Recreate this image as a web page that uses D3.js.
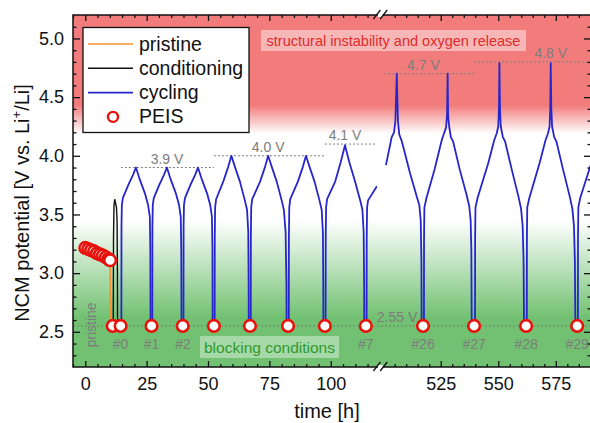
<!DOCTYPE html>
<html>
<head>
<meta charset="utf-8">
<script src="https://cdn.jsdelivr.net/npm/d3@7"></script>
<style>
  html, body { margin: 0; padding: 0; background: #fff; }
  svg { display: block; font-family: "Liberation Sans", Arial, sans-serif; }
</style>
</head>
<body>
<div id="chart"></div>
<script>
// ---- data: [time h, potential V] ----
const ocvT = [0, 1.2, 2.4, 3.6, 4.8, 6.0, 7.2, 8.4, 9.4, 10.1];
const ocvV = [3.215, 3.205, 3.195, 3.185, 3.17, 3.16, 3.15, 3.135, 3.12, 3.11];

const pristineLine = [[10.15, 3.11], [10.25, 2.57]];
const conditioningLine = [[11.4, 2.57], [11.5, 3.3], [11.7, 3.58], [12.0, 3.63], [12.3, 3.6],
  [12.7, 3.56], [12.95, 3.45], [13.1, 3.0], [13.15, 2.57]];

// cycling curves, left part of the broken axis
const cyclesLeft = [
  [[14.7, 2.56], [14.75, 3.4], [14.9, 3.58], [15.3, 3.64], [17.5, 3.75], [19.5, 3.84], [20.65, 3.9],
   [22.0, 3.81], [24.3, 3.68], [25.6, 3.58], [26.3, 3.48], [26.5, 3.2], [26.6, 2.57]],
  [[27.3, 2.56], [27.35, 3.4], [27.5, 3.58], [27.9, 3.64], [30.1, 3.75], [32.1, 3.84], [33.25, 3.9],
   [34.6, 3.81], [36.9, 3.68], [38.2, 3.58], [38.9, 3.48], [39.1, 3.2], [39.2, 2.57]],
  [[40.0, 2.56], [40.05, 3.4], [40.2, 3.58], [40.6, 3.64], [42.8, 3.75], [44.8, 3.84], [45.9, 3.9],
   [47.3, 3.81], [49.6, 3.68], [50.9, 3.58], [51.6, 3.48], [51.8, 3.2], [51.9, 2.57]],
  [[52.7, 2.56], [52.75, 3.3], [52.9, 3.56], [53.3, 3.63], [56.2, 3.78], [58.3, 3.91], [59.5, 4.0],
   [60.9, 3.91], [63.0, 3.78], [65.0, 3.62], [65.9, 3.54], [66.4, 3.35], [66.55, 2.9], [66.6, 2.57]],
  [[67.4, 2.56], [67.45, 3.3], [67.6, 3.56], [68.0, 3.63], [71.2, 3.78], [73.3, 3.91], [74.5, 4.0],
   [75.9, 3.91], [78.0, 3.78], [80.0, 3.62], [80.9, 3.54], [81.6, 3.35], [81.95, 2.9], [82.0, 2.57]],
  [[82.9, 2.56], [82.95, 3.3], [83.1, 3.56], [83.5, 3.63], [86.6, 3.78], [88.7, 3.91], [89.9, 4.0],
   [91.3, 3.91], [93.4, 3.78], [95.4, 3.62], [96.3, 3.54], [96.8, 3.35], [96.95, 2.9], [97.0, 2.57]],
  [[97.9, 2.56], [97.95, 3.3], [98.1, 3.56], [98.5, 3.63], [101.8, 3.78], [104.1, 3.95], [105.8, 4.09],
   [107.5, 3.95], [109.9, 3.78], [112.0, 3.62], [112.9, 3.54], [113.4, 3.35], [113.6, 2.9], [113.65, 2.57]],
  [[114.6, 2.56], [114.65, 3.3], [114.8, 3.56], [115.2, 3.62], [118.8, 3.74]],
];

// cycling curves, right part of the broken axis
const cyclesRight = [
  [[501.2, 3.92], [503.7, 4.16], [504.7, 4.2], [505.3, 4.3], [505.9, 4.7], [506.4, 4.3], [507.0, 4.18],
   [508.0, 4.13], [511.7, 3.85], [514.6, 3.65], [515.7, 3.58], [516.3, 3.45], [516.6, 3.1], [516.7, 2.57]],
  [[517.7, 2.56], [517.75, 3.3], [517.9, 3.56], [518.8, 3.64], [522.4, 3.89], [525.4, 4.13], [526.4, 4.19],
   [527.3, 4.24], [527.75, 4.35], [528.0, 4.7], [528.2, 4.35], [528.6, 4.26], [529.4, 4.16], [530.4, 4.12],
   [533.3, 3.88], [536.2, 3.67], [537.4, 3.57], [538.0, 3.45], [538.3, 3.2], [538.45, 2.57]],
  [[539.9, 2.56], [539.95, 3.3], [540.1, 3.56], [541.0, 3.64], [545.7, 3.94], [548.2, 4.13], [549.3, 4.19],
   [550.0, 4.25], [550.3, 4.4], [550.5, 4.79], [550.75, 4.4], [551.1, 4.25], [552.0, 4.16], [553.0, 4.12],
   [555.9, 3.88], [558.8, 3.65], [559.9, 3.55], [560.6, 3.4], [561.0, 3.1], [561.2, 2.57]],
  [[562.4, 2.56], [562.45, 3.3], [562.6, 3.56], [563.5, 3.64], [568.0, 3.94], [570.5, 4.13], [571.6, 4.19],
   [572.3, 4.25], [572.6, 4.4], [572.8, 4.79], [573.05, 4.4], [573.4, 4.25], [574.3, 4.16], [575.3, 4.12],
   [578.2, 3.88], [581.1, 3.65], [582.2, 3.55], [582.9, 3.4], [583.3, 3.1], [583.5, 2.57]],
  [[584.6, 2.56], [584.65, 3.3], [584.8, 3.56], [585.6, 3.64], [590.3, 3.93]],
];

// PEIS measurements in blocking conditions (2.55 V)
const peisV = 2.55;
const peisLeftT = [11.2, 14.4, 27.0, 39.7, 52.4, 67.1, 82.6, 97.6, 114.3];
const peisRightT = [517.3, 539.5, 562.1, 584.3];
const cycleLabels = ["#0", "#1", "#2", "#7", "#26", "#27", "#28", "#29"];
const cycleLabelT = [14.4, 27.0, 39.7, 114.3, 517.3, 539.5, 562.1, 584.3];

// upper cutoff guides: value, start, end, label position
const cutoffV = [3.9, 4.0, 4.1, 4.7, 4.8];
const cutoffStart = [14.5, 52.4, 97.6, 500.5, 539.5];
const cutoffEnd = [52.4, 97.6, 118.8, 539.5, 590.3];
const cutoffLabelT = [33.3, 74.5, 105.8, 517.5, 572.8];

const tLeftTicks = [0, 25, 50, 75, 100];
const tRightTicks = [525, 550, 575];
const vTicks = [2.5, 3.0, 3.5, 4.0, 4.5, 5.0];

// ---- layout ----
const width = 590, height = 423;
const pTop = 15, pBottom = 367, pLeft = 73, pRight = 591;
const breakL = 377.4, breakR = 383.2;

const xL = d3.scaleLinear().domain([-5, 119]).range([pLeft, breakL]);
const xR = d3.scaleLinear().domain([500, 590.3]).range([breakR, pRight]);
const y = d3.scaleLinear().domain([2.2, 5.2]).range([pBottom, pTop]);

const RED = "#f27c7c", GREEN = "#72c172", BLUE = "#2626cc", ORANGE = "#f5922f", PEIS_RED = "#e8120c";
const GREY = "#7d7d7d";

const svg = d3.select("#chart").append("svg")
  .attr("width", width).attr("height", height)
  .attr("viewBox", `0 0 ${width} ${height}`);

const defs = svg.append("defs");

// background: red on top (instability), green at the bottom (blocking)
const bgStops = [[5.2, RED], [4.43, RED], [4.19, "#ffffff"], [3.45, "#ffffff"], [2.62, GREEN], [2.2, GREEN]];
const grad = defs.append("linearGradient").attr("id", "bg")
  .attr("gradientUnits", "userSpaceOnUse")
  .attr("x1", 0).attr("x2", 0).attr("y1", pTop).attr("y2", pBottom);
grad.selectAll("stop").data(bgStops).join("stop")
  .attr("offset", (d) => (y(d[0]) - pTop) / (pBottom - pTop))
  .attr("stop-color", (d) => d[1]);

svg.append("rect")
  .attr("x", pLeft).attr("y", pTop).attr("width", pRight - pLeft).attr("height", pBottom - pTop)
  .attr("fill", "url(#bg)");

defs.append("clipPath").attr("id", "clipL").append("rect")
  .attr("x", pLeft).attr("y", pTop).attr("width", breakL - pLeft).attr("height", pBottom - pTop);
defs.append("clipPath").attr("id", "clipR").append("rect")
  .attr("x", breakR).attr("y", pTop).attr("width", pRight - breakR).attr("height", pBottom - pTop);

// annotation boxes
svg.append("rect").attr("x", 261).attr("y", 30).attr("width", 265).attr("height", 21)
  .attr("fill", "#ffffff").attr("fill-opacity", 0.45);
svg.append("text").attr("x", 393.5).attr("y", 45.5).attr("text-anchor", "middle")
  .attr("font-size", 14.5).attr("fill", "#e02a2a")
  .text("structural instability and oxygen release");

svg.append("rect").attr("x", 200).attr("y", 336).attr("width", 139).attr("height", 22)
  .attr("fill", "#ffffff").attr("fill-opacity", 0.38);
svg.append("text").attr("x", 269.5).attr("y", 352.5).attr("text-anchor", "middle")
  .attr("font-size", 15.5).attr("fill", "#2e9a2e")
  .text("blocking conditions");

// ---- dotted guide lines ----
const xOf = (t) => (t < 300 ? xL(t) : xR(t));

svg.append("line")
  .attr("x1", pLeft).attr("x2", pRight).attr("y1", y(peisV)).attr("y2", y(peisV))
  .attr("stroke", "#6a866a").attr("stroke-width", 1).attr("stroke-dasharray", "2,2");

cutoffV.forEach((v, i) => {
  svg.append("line")
    .attr("x1", xOf(cutoffStart[i])).attr("x2", xOf(cutoffEnd[i]))
    .attr("y1", y(v)).attr("y2", y(v))
    .attr("stroke", GREY).attr("stroke-width", 1).attr("stroke-dasharray", "2,2");
  svg.append("text")
    .attr("x", xOf(cutoffLabelT[i])).attr("y", y(v) - 4)
    .attr("text-anchor", "middle").attr("font-size", 14).attr("fill", GREY)
    .text(`${v.toFixed(1)} V`);
});
svg.append("text").attr("x", xOf(506)).attr("y", y(peisV) - 4)
  .attr("text-anchor", "middle").attr("font-size", 14).attr("fill", GREY).text("2.55 V");

// ---- curves ----
const lineL = d3.line().x((d) => xL(d[0])).y((d) => y(d[1]));
const lineR = d3.line().x((d) => xR(d[0])).y((d) => y(d[1]));

const gL = svg.append("g").attr("clip-path", "url(#clipL)");
const gR = svg.append("g").attr("clip-path", "url(#clipR)");

gL.append("path").attr("d", lineL(pristineLine))
  .attr("fill", "none").attr("stroke", ORANGE).attr("stroke-width", 1.6);
gL.append("path").attr("d", lineL(conditioningLine))
  .attr("fill", "none").attr("stroke", "#111").attr("stroke-width", 1.4);

gL.selectAll("path.cyc").data(cyclesLeft).join("path").attr("class", "cyc")
  .attr("d", lineL).attr("fill", "none").attr("stroke", BLUE)
  .attr("stroke-width", 1.8).attr("stroke-linejoin", "round");
gR.selectAll("path.cyc").data(cyclesRight).join("path").attr("class", "cyc")
  .attr("d", lineR).attr("fill", "none").attr("stroke", BLUE)
  .attr("stroke-width", 1.8).attr("stroke-linejoin", "round");

// ---- PEIS circles ----
const circ = (sel) => sel.attr("r", 5.8).attr("fill", "#fff")
  .attr("stroke", PEIS_RED).attr("stroke-width", 2.6);

gL.selectAll("circle.ocv").data(ocvT).join("circle").attr("class", "ocv")
  .attr("cx", (d) => xL(d)).attr("cy", (d, i) => y(ocvV[i])).call(circ);
gL.selectAll("circle.peis").data(peisLeftT).join("circle").attr("class", "peis")
  .attr("cx", (d) => xL(d)).attr("cy", y(peisV)).call(circ);
gR.selectAll("circle.peis").data(peisRightT).join("circle").attr("class", "peis")
  .attr("cx", (d) => xR(d)).attr("cy", y(peisV)).call(circ);

svg.selectAll("text.cyclab").data(cycleLabels).join("text").attr("class", "cyclab")
  .attr("x", (d, i) => xOf(cycleLabelT[i])).attr("y", 348.5)
  .attr("text-anchor", "middle").attr("font-size", 14).attr("fill", GREY)
  .text((d) => d);

svg.append("text")
  .attr("transform", `translate(${xL(4.5)},${325}) rotate(-90)`)
  .attr("text-anchor", "middle").attr("font-size", 14).attr("fill", GREY)
  .text("pristine");

// ---- legend ----
const legend = svg.append("g");
legend.append("rect").attr("x", 83).attr("y", 27.5).attr("width", 166).attr("height", 105)
  .attr("fill", "#fff").attr("stroke", "#111").attr("stroke-width", 1.3);
const legendItems = [["pristine", ORANGE], ["conditioning", "#111"], ["cycling", BLUE], ["PEIS", null]];
legendItems.forEach(([name, col], i) => {
  const cy = 44 + i * 24.3;
  if (col) {
    legend.append("line").attr("x1", 88).attr("x2", 133).attr("y1", cy).attr("y2", cy)
      .attr("stroke", col).attr("stroke-width", 1.6);
  } else {
    legend.append("circle").attr("cx", 113).attr("cy", cy).attr("r", 5)
      .attr("fill", "#fff").attr("stroke", PEIS_RED).attr("stroke-width", 2.4);
  }
  legend.append("text").attr("x", 139).attr("y", cy + 6.5)
    .attr("font-size", 19.5).attr("fill", "#111").text(name);
});

// ---- axes (ticks point inwards) ----
const minorL = d3.range(-5, 120, 5).filter((t) => t % 25 !== 0);
const minorR = d3.range(500, 591, 5).filter((t) => t % 25 !== 0);
const minorV = d3.range(23, 52).map((d) => d / 10).filter((v) => Math.round(v * 10) % 5 !== 0);

function styleAxis(g) {
  g.select(".domain").remove();
  g.selectAll(".tick line").attr("stroke", "#111").attr("stroke-width", 1.3);
  g.selectAll(".tick text").attr("font-size", 18).attr("fill", "#111")
    .attr("font-family", "Liberation Sans, Arial, sans-serif");
}

[[xL, tLeftTicks, minorL], [xR, tRightTicks, minorR]].forEach(([sc, major, minor]) => {
  svg.append("g").attr("transform", `translate(0,${pBottom})`)
    .call(d3.axisBottom(sc).tickValues(major).tickSize(-6).tickPadding(10)).call(styleAxis);
  svg.append("g").attr("transform", `translate(0,${pBottom})`)
    .call(d3.axisBottom(sc).tickValues(minor).tickSize(-3).tickFormat("")).call(styleAxis);
  svg.append("g").attr("transform", `translate(0,${pTop})`)
    .call(d3.axisTop(sc).tickValues(major).tickSize(-6).tickFormat("")).call(styleAxis);
  svg.append("g").attr("transform", `translate(0,${pTop})`)
    .call(d3.axisTop(sc).tickValues(minor).tickSize(-3).tickFormat("")).call(styleAxis);
});

svg.append("g").attr("transform", `translate(${pLeft},0)`)
  .call(d3.axisLeft(y).tickValues(vTicks).tickSize(-7).tickPadding(9).tickFormat(d3.format(".1f")))
  .call(styleAxis);
svg.append("g").attr("transform", `translate(${pLeft},0)`)
  .call(d3.axisLeft(y).tickValues(minorV).tickSize(-3.5).tickFormat("")).call(styleAxis);
svg.append("g").attr("transform", `translate(${pRight},0)`)
  .call(d3.axisRight(y).tickValues(vTicks).tickSize(-7).tickFormat("")).call(styleAxis);
svg.append("g").attr("transform", `translate(${pRight},0)`)
  .call(d3.axisRight(y).tickValues(minorV).tickSize(-3.5).tickFormat("")).call(styleAxis);

// frame
svg.append("rect").attr("x", pLeft).attr("y", pTop).attr("width", pRight - pLeft).attr("height", pBottom - pTop)
  .attr("fill", "none").attr("stroke", "#111").attr("stroke-width", 1.5);

// axis break marks
[pTop, pBottom].forEach((yy) => {
  svg.append("rect").attr("x", breakL + 0.5).attr("y", yy - 2).attr("width", breakR - breakL - 1).attr("height", 4)
    .attr("fill", "#fff");
  [breakL - 4, breakR - 3].forEach((x0) => {
    svg.append("line").attr("x1", x0).attr("y1", yy + 4).attr("x2", x0 + 7).attr("y2", yy - 5)
      .attr("stroke", "#111").attr("stroke-width", 1.3);
  });
});

// axis titles
svg.append("text").attr("x", 327).attr("y", 418).attr("text-anchor", "middle")
  .attr("font-size", 20).attr("fill", "#111").text("time [h]");

const yTitle = svg.append("text")
  .attr("transform", `translate(29,${203}) rotate(-90)`)
  .attr("text-anchor", "middle").attr("font-size", 20).attr("fill", "#111");
yTitle.append("tspan").text("NCM potential [V vs. Li");
yTitle.append("tspan").attr("font-size", 13).attr("dy", -8).text("+");
yTitle.append("tspan").attr("dy", 8).text("/Li]");
</script>
</body>
</html>
